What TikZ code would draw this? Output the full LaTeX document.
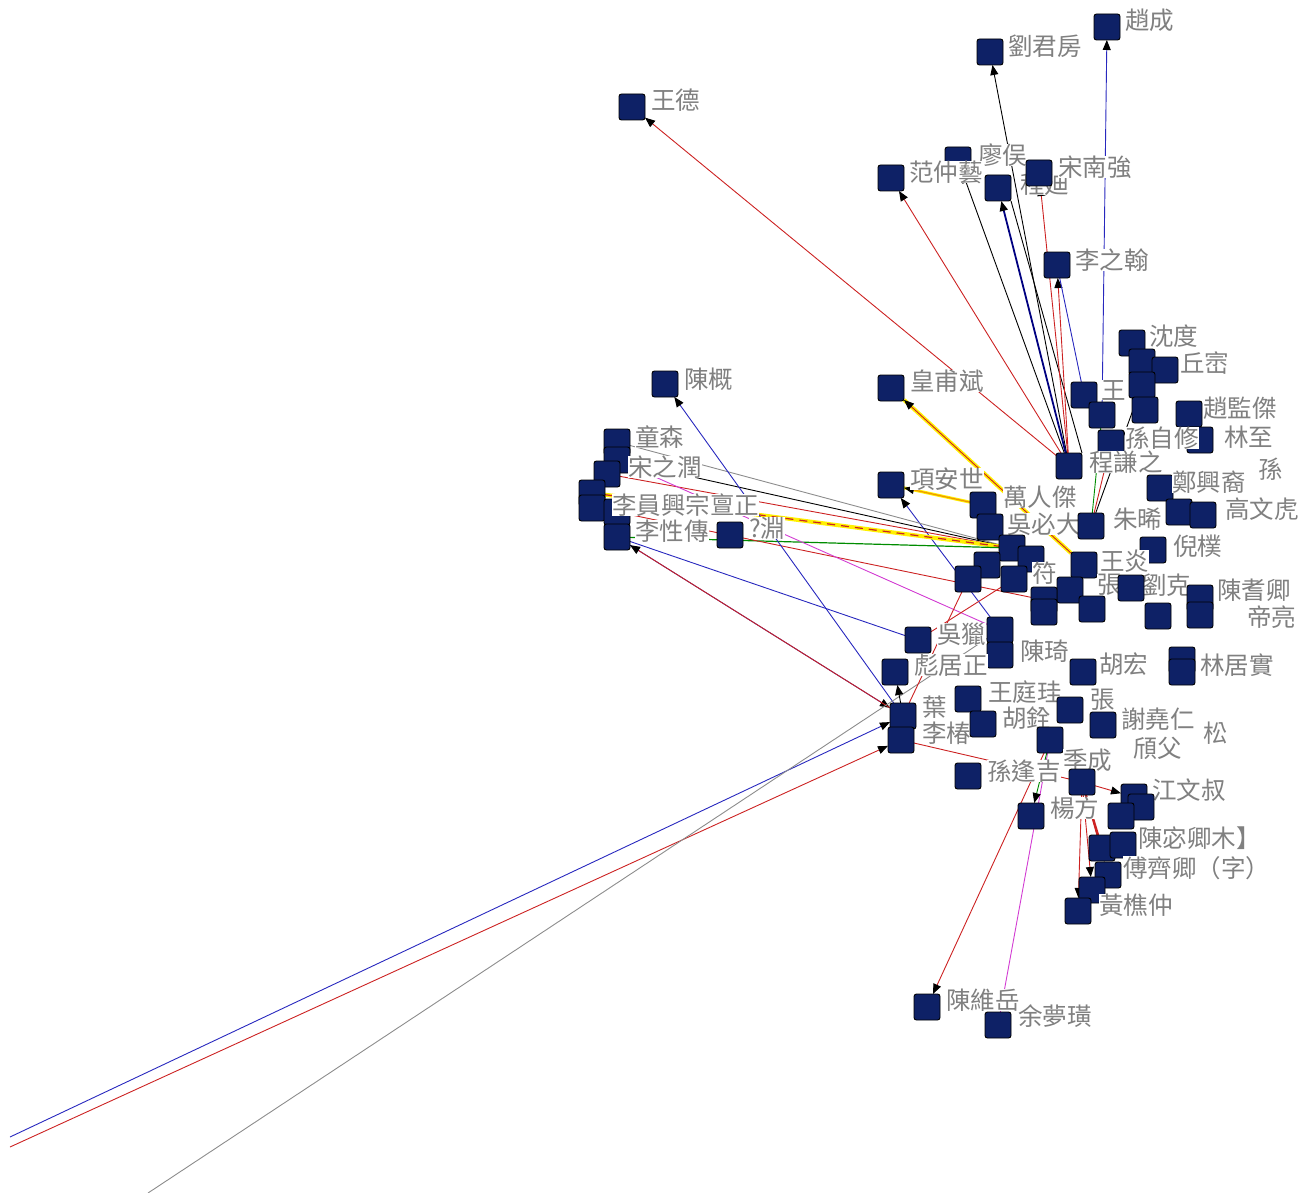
\documentclass[tikz,border=0pt]{standalone}
\usepackage{fontspec}
\newfontfamily\cjk{Noto Sans CJK TC}
\usetikzlibrary{arrows.meta}
\definecolor{navy}{RGB}{14,33,102}
\definecolor{labgray}{RGB}{128,128,128}
\definecolor{ered}{RGB}{204,34,34}
\definecolor{eblue}{RGB}{40,40,190}
\definecolor{enavy}{RGB}{0,0,128}
\definecolor{egray}{RGB}{140,140,140}
\definecolor{eyel}{RGB}{255,240,0}
\definecolor{eorange}{RGB}{240,150,0}
\definecolor{emag}{RGB}{210,60,210}
\definecolor{egreen}{RGB}{0,140,0}
\pgfdeclarelayer{bg}
\pgfsetlayers{bg,main}
\tikzset{
 sq/.style={draw=black,line width=0.9pt,fill=navy,rounded corners=2.5pt,minimum size=26pt,inner sep=0pt,outer sep=0pt},
 lab/.style={text=labgray,fill=white,anchor=west,inner sep=0pt,font=\cjk\fontsize{24.5}{26}\selectfont},
 ed/.style={line width=0.9pt},
 tip/.style={-{Triangle[length=10pt,width=8pt,color=black]}},
}
\newcommand\sqn[3]{\node[sq] (#1) at (#2,#3) {};}
\newcommand\labn[4]{\node[lab] (#1) at (#2,#3) {#4};}
\begin{document}
\begin{tikzpicture}[x=1pt,y=-1pt]
\useasboundingbox (0,0) rectangle (1298,1193);
% ---------- top ----------
\sqn{zc}{1107}{27} \labn{zcl}{1125}{20}{趙成}
\sqn{ljf}{990}{52} \labn{ljfl}{1008}{46}{劉君房}
\sqn{wd}{632}{107} \labn{wdl}{651}{100}{王德}
\sqn{lw}{958}{160} \labn{lwl}{978}{155}{廖俣}
\sqn{fzy}{891}{178} \labn{fzyl}{909}{172}{范仲藝}
\labn{cdl}{1020}{184}{程廸}
\sqn{cd}{998}{188}
\sqn{snq}{1039}{173} \labn{snql}{1058}{167}{宋南強}
\sqn{lzh}{1057}{265} \labn{lzhl}{1075}{260}{李之翰}
% ---------- left ----------
\sqn{cg}{665}{384} \labn{cgl}{684}{379}{陳概}
\sqn{hfb}{891}{388} \labn{hfbl}{910}{381}{皇甫斌}
\sqn{xas}{891}{485} \labn{xasl}{910}{479}{項安世}
\sqn{ts}{617}{442} \labn{tsl}{635}{437}{童森}
\sqn{la}{617}{460}
\sqn{szr}{607}{474} \labn{szrl}{628}{467}{宋之潤}
\sqn{lb}{592}{493}
\sqn{lbb}{592}{508}
\sqn{lyx}{617}{512}
\sqn{lxz}{617}{537}
\labn{lyxl}{612}{505}{李員興宗亶正}
\labn{lxzl}{635}{531}{李性傳}
\sqn{yuan}{730}{535} \labn{yuanl}{749}{528}{?淵}
% ---------- cluster ----------
\sqn{sd}{1132}{343} \labn{sdl}{1149}{336}{沈度}
\sqn{c1}{1142}{362}
\sqn{qc}{1165}{370} \labn{qcl}{1180}{363}{丘崈}
\sqn{c2}{1142}{385}
\sqn{c3}{1145}{410}
\sqn{c4}{1189}{414}
\labn{zjjl}{1203}{408}{趙監傑}
\sqn{wang}{1084}{395} \labn{wangl}{1101}{390}{王}
\sqn{c5}{1102}{415}
\sqn{lz}{1200}{440} \labn{lzl}{1224}{437}{林至}
\sqn{szx}{1111}{443} \labn{szxl}{1125}{438}{孫自修}
\sqn{cqz}{1069}{466} \labn{cqzl}{1089}{462}{程謙之}
\sqn{zxy}{1160}{488} \labn{zxyl}{1172}{482}{鄭興裔}
\labn{sunl}{1258}{469}{孫}
\sqn{c6}{1179}{512}
\sqn{gwh}{1203}{515} \labn{gwhl}{1225}{509}{高文虎}
\sqn{wrj}{983}{505} \labn{wrjl}{1003}{497}{萬人傑}
\sqn{bam}{990}{527} \labn{baml}{1007}{524}{吳必大}
\sqn{zx}{1091}{526} \labn{zxl}{1113}{519}{朱晞}
\sqn{hub}{1012}{548}
\sqn{np}{1153}{550} \labn{npl}{1173}{546}{倪樸}
\sqn{c7}{987}{565}
\sqn{c8}{1031}{559}
\labn{ful}{1032}{573}{符}
\sqn{wy}{1084}{565} \labn{wyl}{1100}{561}{王炎}
\sqn{c9}{968}{579}
\sqn{c10}{1014}{579}
\sqn{c11}{1070}{590}
\labn{zhl}{1097}{585}{張}
\labn{lkl}{1142}{585}{劉克}
\sqn{lk}{1131}{588}
\sqn{cqqa}{1200}{598} \sqn{cqqb}{1200}{615} \labn{cqql}{1217}{590}{陳耆卿}
\sqn{c12}{1044}{600} \sqn{c13}{1044}{612}
\sqn{c14}{1092}{609}
\sqn{c15}{1158}{616}
\labn{dll}{1247}{617}{帝亮}
\sqn{cqa}{1000}{630}
\sqn{cqb}{1000}{655} \labn{cql}{1020}{651}{陳琦}
\sqn{wl}{918}{640} \labn{wll}{937}{634}{吳獵}
\sqn{bjz}{895}{672} \labn{bjzl}{914}{665}{彪居正}
\sqn{hh}{1083}{672} \labn{hhl}{1099}{664}{胡宏}
\sqn{ljsa}{1182}{660} \sqn{ljs}{1182}{672} \labn{ljsl}{1200}{665}{林居實}
\sqn{ye}{903}{716} \labn{yel}{922}{707}{葉}
\sqn{lc}{901}{740} \labn{lcl}{922}{733}{李椿}
\sqn{wtg}{968}{699} \labn{wtgl}{988}{692}{王庭珪}
\sqn{hq}{983}{724} \labn{hql}{1002}{718}{胡銓}
\sqn{zhb}{1070}{710} \labn{zhbl}{1090}{700}{張}
\sqn{xyr}{1103}{725} \labn{xyrl}{1121}{719}{謝堯仁}
\labn{songl}{1203}{733}{松}
\labn{fl}{1133}{748}{頎父}
\sqn{c16}{1050}{740}
\sqn{sfj}{968}{776} \labn{sfjl}{987}{771}{孫逢吉}
\labn{jcl}{1063}{760}{季成}
\sqn{c17}{1082}{782}
\sqn{yf}{1031}{816} \labn{yfl}{1050}{808}{楊方}
\sqn{jwz}{1134}{797} \labn{jwzl}{1152}{790}{江文叔}
\sqn{c18}{1141}{807}
\sqn{c19}{1121}{816}
\sqn{c20}{1102}{848}
\sqn{cmq}{1123}{845} \labn{cmql}{1138}{838}{陳宓卿木】}
\sqn{fqq}{1108}{875} \labn{fqql}{1123}{868}{傅齊卿（字）}
\sqn{c21}{1092}{890}
\sqn{hqz}{1078}{911} \labn{hqzl}{1099}{905}{黃樵仲}
\sqn{cwy}{927}{1007} \labn{cwyl}{946}{1000}{陳維岳}
\sqn{ymh}{998}{1025} \labn{ymhl}{1018}{1016}{余夢璜}
% free ends
\coordinate (fa) at (10,1137);
\coordinate (fb) at (10,1147);
\coordinate (fc) at (148,1193);
% ---------- edges ----------
\begin{pgfonlayer}{bg}
\draw[ed,ered,tip] (cqz) -- (wd);
\draw[ed,ered,tip] (cqz) -- (fzy);
\draw[ed,black,tip] (cqz) -- (lw);
\draw[ed,black,tip] (cqz) -- (ljf);
\draw[line width=1.8pt,enavy,tip] (cqz) -- (cd);
\draw[ed,black] (cqz.north east) -- (cd.south east);
\draw[ed,ered,tip] (cqz) -- (snq);
\draw[ed,ered,tip] (cqz) -- (lzh);
\draw[ed,eblue] (wang) -- (lzh);
\draw[ed,eblue,tip] (c5) -- (zc);
\draw[line width=4pt,eyel] (wy) -- (hfb);
\draw[ed,ered,tip] (wy) -- (hfb);
\draw[line width=3pt,eyel] (wrj) -- (xas);
\draw[line width=1.2pt,eorange,tip] (wrj) -- (xas);
\draw[ed,eblue,tip] (cqa) -- (xas);
\draw[ed,egray] (ts) -- (hub);
\draw[ed,black] (la) -- (hub);
\draw[ed,ered] (szr) -- (hub);
\draw[line width=4pt,eyel] (lb) -- (hub);
\draw[line width=1.2pt,ered,dash pattern=on 8pt off 6pt] (lb) -- (hub);
\draw[line width=1.2pt,egreen] (lxz) -- (hub);
\draw[ed,ered] (lyx) -- (c12);
\draw[ed,emag] (la) -- (cqa);
\draw[ed,eblue,tip] (ye) -- (cg);
\draw[ed,eblue] (lxz) -- (wl);
\draw[ed,eblue,tip] (lxz) -- (ye);
\draw[ed,ered,tip] (ye) -- (lxz);
\draw[ed,eblue,tip] (fa) -- (ye);
\draw[ed,ered,tip] (fb) -- (lc);
\draw[ed,egray] (fc) -- (cqa);
\draw[ed,black,tip] (ye) -- (bjz);
\draw[ed,ered] (lc) -- (c17);
\draw[ed,ered] (ye) -- (c9);
\draw[ed,ered] (wl) -- (c10);
\draw[ed,ered,tip] (c16) -- (cwy);
\draw[ed,emag] (c16) -- (ymh);
\draw[ed,egreen,tip] (c16) -- (yf);
\draw[ed,ered,tip] (c17) -- (jwz);
\draw[line width=2.2pt,ered] (c17) -- (c20);
\draw[ed,ered,tip] (c17) -- (c21);
\draw[ed,ered,tip] (c17) -- (hqz);
\draw[ed,ered,tip] (c17) -- (fqq);
\draw[ed,ered] (zx) -- (szx);
\draw[ed,egreen] (zx) -- (c5);
\draw[ed,black] (zx) -- (c2);
\end{pgfonlayer}
\end{tikzpicture}
\end{document}
